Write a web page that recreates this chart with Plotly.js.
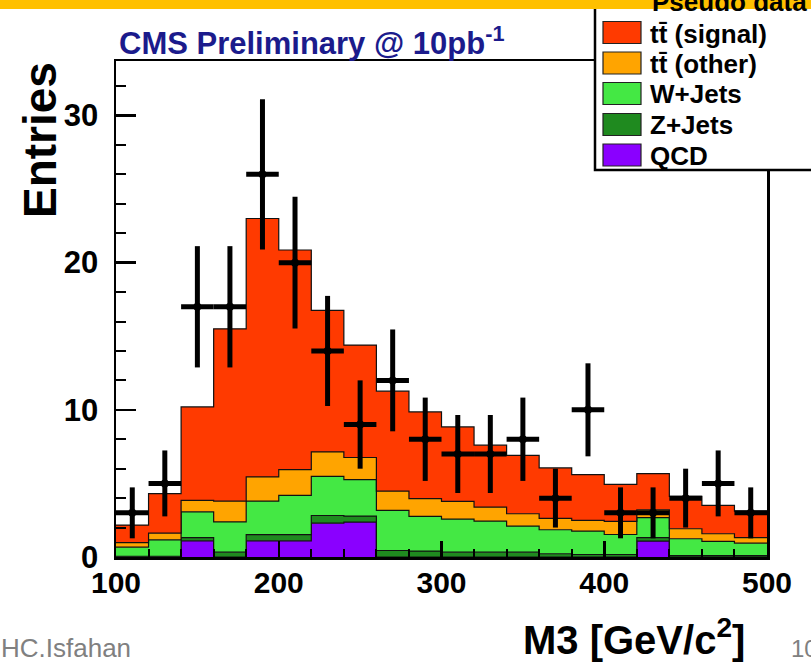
<!DOCTYPE html>
<html>
<head>
<meta charset="utf-8">
<script src="https://cdn.plot.ly/plotly-3.0.1.min.js"></script>
<style>
  html, body { margin: 0; padding: 0; background: #ffffff; }
  #chart { width: 811px; height: 663px; }
</style>
</head>
<body>
<div id="chart"></div>
<script>
// M3 distribution, 20 GeV bins from 100 to 500 GeV/c^2
const binEdges = [100, 120, 140, 160, 180, 200, 220, 240, 260, 280, 300,
                  320, 340, 360, 380, 400, 420, 440, 460, 480, 500];
const binCenters = [110, 130, 150, 170, 190, 210, 230, 250, 270, 290,
                    310, 330, 350, 370, 390, 410, 430, 450, 470, 490];

// Expected entries per bin for each process (stacked bottom to top)
const qcd      = [0, 0, 1.1, 0, 1.1, 1.1, 2.3, 2.37, 0, 0,
                  0, 0, 0, 0, 0, 0, 1.08, 0, 0, 0];
const zJets    = [0.05, 0.05, 0.22, 0.33, 0.42, 0.42, 0.52, 0.41, 0.44, 0.4,
                  0.33, 0.33, 0.33, 0.22, 0.17, 0.17, 0.23, 0.1, 0.1, 0.1];
const wJets    = [0.62, 1.12, 1.75, 2.05, 2.28, 2.67, 2.66, 2.48, 2.73, 2.36,
                  2.25, 2.11, 1.77, 1.63, 1.59, 1.36, 1.36, 1.14, 0.96, 0.84];
const ttOther  = [0.3, 0.45, 0.78, 1.42, 1.64, 1.75, 1.66, 1.5, 1.31, 1.2,
                  1.2, 0.95, 0.84, 0.77, 0.73, 0.89, 0.54, 0.68, 0.52, 0.37];
const ttSignal = [1.2, 2.68, 6.35, 11.7, 17.56, 14.92, 9.61, 7.64, 6.79, 5.9,
                  5.06, 4.21, 3.96, 3.43, 3.11, 2.52, 2.46, 2.2, 1.93, 1.81];

// Pseudo data and its statistical uncertainty
const pseudoData = [3, 5, 17, 17, 26, 20, 14, 9, 12, 8,
                    7, 7, 8, 4, 10, 3, 3, 4, 5, 3];
const dataError  = [1.73, 2.24, 4.12, 4.12, 5.1, 4.47, 3.74, 3.0, 3.46, 2.83,
                    2.65, 2.65, 2.83, 2.0, 3.16, 1.73, 1.73, 2.0, 2.24, 1.73];

const processNames = ['QCD', 'Z+Jets', 'W+Jets', 't\u0074\u0304 (other)', 't\u0074\u0304 (signal)'];
const processValues = [qcd, zJets, wJets, ttOther, ttSignal];
const processColors = ['#8a00ff', '#1f8a1f', '#44e844', '#ffa400', '#ff3a00'];

const xTickVals = [100, 200, 300, 400, 500];
const yTickVals = [0, 10, 20, 30];

// Histogram steps: value of each bin held across its width
function stepY(vals) { return vals.concat([vals[vals.length - 1]]); }

const traces = processValues.map((vals, i) => ({
  type: 'scatter',
  mode: 'lines',
  name: processNames[i],
  x: binEdges,
  y: stepY(vals),
  stackgroup: 'mc',
  line: { shape: 'hv', color: '#111111', width: 1.2 },
  fillcolor: processColors[i],
  hoverinfo: 'skip'
}));

traces.push({
  type: 'scatter',
  mode: 'markers',
  name: 'Pseudo data',
  x: binCenters,
  y: pseudoData,
  marker: { color: '#000000', size: 8 },
  error_y: { type: 'data', array: dataError, visible: true, color: '#000000', thickness: 5, width: 0 },
  error_x: { type: 'constant', value: 10, visible: true, color: '#000000', thickness: 5, width: 0 },
  cliponaxis: false
});

// Plot area in page pixels
const L = 116, R = 767, T = 61, B = 557, W = 811, H = 663;
const xp = px => (px - L) / (R - L);
const yp = py => (B - py) / (B - T);

const font = 'Liberation Sans, Arial, Helvetica, sans-serif';

const shapes = [];
const annotations = [];

// Legend box (partly above the page)
shapes.push({
  type: 'rect', xref: 'paper', yref: 'paper', layer: 'above',
  x0: xp(595), x1: xp(840), y0: yp(170), y1: yp(-30),
  fillcolor: '#ffffff', line: { color: '#000000', width: 2.5 }
});

// Legend: data marker and label
shapes.push({
  type: 'circle', xref: 'paper', yref: 'paper', layer: 'above',
  x0: xp(619), x1: xp(625), y0: yp(6), y1: yp(0),
  fillcolor: '#000000', line: { color: '#000000', width: 1 }
});
annotations.push({
  xref: 'paper', yref: 'paper', x: xp(650), y: yp(2),
  xanchor: 'left', yanchor: 'middle', showarrow: false,
  text: 'Pseudo data', font: { family: font, size: 26, color: '#000000', weight: 'bold' }
});

// Legend: processes, top to bottom
const swatchTops = [21.5, 52, 82.5, 113.5, 144];
for (let k = 0; k < 5; k++) {
  const i = 4 - k;
  const top = swatchTops[k];
  shapes.push({
    type: 'rect', xref: 'paper', yref: 'paper', layer: 'above',
    x0: xp(603), x1: xp(641), y0: yp(top + 22), y1: yp(top),
    fillcolor: processColors[i], line: { color: '#222222', width: 1.2 }
  });
  annotations.push({
    xref: 'paper', yref: 'paper', x: xp(648), y: yp(top + 12),
    xanchor: 'left', yanchor: 'middle', showarrow: false,
    text: processNames[i], font: { family: font, size: 26, color: '#000000', weight: 'bold' }
  });
}

// Slide header band
shapes.push({
  type: 'rect', xref: 'paper', yref: 'paper', layer: 'above',
  x0: xp(-5), x1: xp(W + 5), y0: yp(9), y1: yp(-5),
  fillcolor: '#ffc000', line: { width: 0 }
});

// Titles
annotations.push({
  xref: 'paper', yref: 'paper', x: xp(117), y: yp(41),
  xanchor: 'left', yanchor: 'middle', showarrow: false,
  text: 'CMS Preliminary @ 10pb<sup>-1</sup>',
  font: { family: font, size: 31, color: '#1b1b8c', weight: 'bold' }
});
annotations.push({
  xref: 'paper', yref: 'paper', x: xp(40), y: yp(140),
  xanchor: 'center', yanchor: 'middle', showarrow: false, textangle: -90,
  text: 'Entries', font: { family: font, size: 46, color: '#000000', weight: 'bold' }
});
annotations.push({
  xref: 'paper', yref: 'paper', x: xp(747), y: yp(637),
  xanchor: 'right', yanchor: 'middle', showarrow: false,
  text: 'M3 [GeV/c<sup>2</sup>]', font: { family: font, size: 40, color: '#000000', weight: 'bold' }
});

// Slide footer
annotations.push({
  xref: 'paper', yref: 'paper', x: xp(-1), y: yp(648),
  xanchor: 'left', yanchor: 'middle', showarrow: false,
  text: 'HC.Isfahan', font: { family: 'Liberation Sans Narrow, Liberation Sans, sans-serif', size: 26, color: '#808080' }
});
annotations.push({
  xref: 'paper', yref: 'paper', x: xp(789), y: yp(648),
  xanchor: 'left', yanchor: 'middle', showarrow: false,
  text: '10', font: { family: 'Liberation Sans Narrow, Liberation Sans, sans-serif', size: 24, color: '#808080' }
});

const layout = {
  width: W, height: H,
  margin: { l: L, r: W - R, t: T, b: H - B, autoexpand: false },
  paper_bgcolor: '#ffffff', plot_bgcolor: '#ffffff',
  showlegend: false,
  xaxis: {
    range: [100, 500], tickvals: xTickVals, ticktext: xTickVals.map(String),
    ticks: 'inside', ticklen: 16, tickwidth: 2.5, tickcolor: '#000000',
    minor: { dtick: 20, tick0: 100, ticks: 'inside', ticklen: 8, tickwidth: 2, tickcolor: '#000000' },
    showgrid: false, zeroline: false,
    showline: true, mirror: true, linecolor: '#000000', linewidth: 2.5,
    layer: 'above traces',
    tickfont: { family: font, size: 30, color: '#000000', weight: 'bold' },
    ticklabelstandoff: -3,
    fixedrange: true
  },
  yaxis: {
    range: [0, 33.7], tickvals: yTickVals, ticktext: yTickVals.map(String),
    ticks: 'inside', ticklen: 20, tickwidth: 2.5, tickcolor: '#000000',
    minor: { dtick: 2, tick0: 0, ticks: 'inside', ticklen: 10, tickwidth: 2, tickcolor: '#000000' },
    showgrid: false, zeroline: false,
    showline: true, mirror: true, linecolor: '#000000', linewidth: 2.5,
    layer: 'above traces',
    tickfont: { family: font, size: 31, color: '#000000', weight: 'bold' },
    ticklabelstandoff: 9,
    fixedrange: true
  },
  shapes: shapes,
  annotations: annotations
};

Plotly.newPlot('chart', traces, layout, { displayModeBar: false, staticPlot: true });
</script>
</body>
</html>
